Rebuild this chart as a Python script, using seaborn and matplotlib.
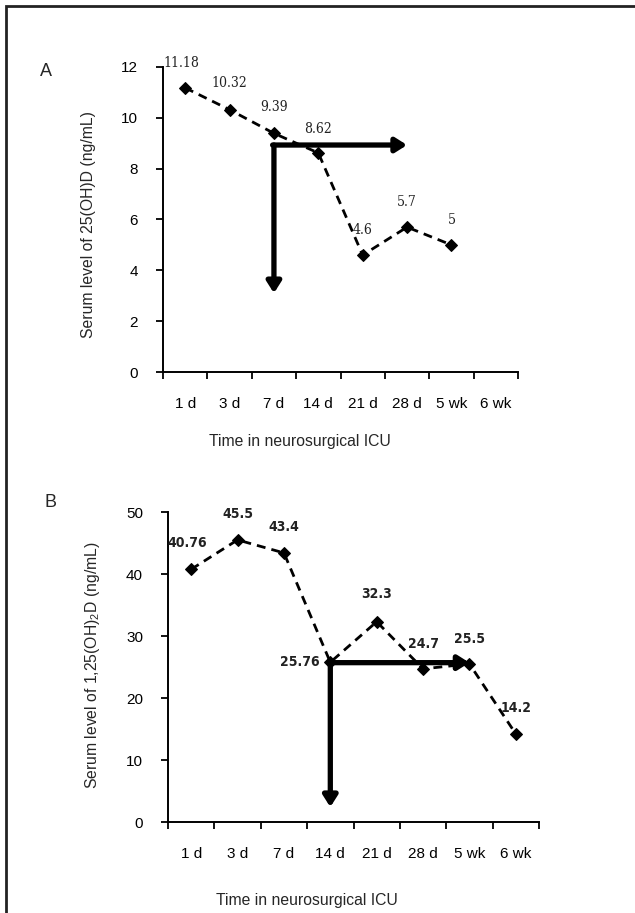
import numpy as np
import pandas as pd
import matplotlib
matplotlib.use("Agg")
import matplotlib.pyplot as plt
from matplotlib.patches import FancyArrowPatch, Rectangle
import seaborn as sns

# ---------------- data ----------------
time_labels = ["1 d", "3 d", "7 d", "14 d", "21 d", "28 d", "5 wk", "6 wk"]

a_labels = ["1 d", "3 d", "7 d", "14 d", "21 d", "28 d", "5 wk"]
a_values = [11.18, 10.32, 9.39, 8.62, 4.6, 5.7, 5]
a_text = ["11.18", "10.32", "9.39", "8.62", "4.6", "5.7", "5"]

b_labels = ["1 d", "3 d", "7 d", "14 d", "21 d", "28 d", "5 wk", "6 wk"]
b_values = [40.76, 45.5, 43.4, 25.76, 32.3, 24.7, 25.5, 14.2]
b_text = ["40.76", "45.5", "43.4", "25.76", "32.3", "24.7", "25.5", "14.2"]

# L-shaped arrows: (start category, end category, level, bottom tip)
a_arrow = ("7 d", "28 d", 8.93, 3.1)
b_arrow = ("14 d", "5 wk", 25.7, 2.4)

# ---------------- style ----------------
sns.set_theme(style="white")
plt.rcParams["font.family"] = ["Liberation Sans", "DejaVu Sans"]
plt.rcParams["mathtext.fontset"] = "custom"
plt.rcParams["mathtext.rm"] = "Liberation Sans"
plt.rcParams["mathtext.it"] = "Liberation Sans:italic"

W, H = 635, 913
fig = plt.figure(figsize=(W / 100, H / 100), dpi=100)


def px_axes(l, t, r, b):
    return fig.add_axes([l / W, 1 - b / H, (r - l) / W, (b - t) / H])


axA = px_axes(163, 67, 518, 372)
axB = px_axes(168, 512, 539, 822)


def draw_panel(ax, labels, values, texts, ymax, ystep, arrow, bold, offsets):
    idx = [time_labels.index(l) for l in labels]
    df = pd.DataFrame({"x": idx, "y": values})
    sns.lineplot(data=df, x="x", y="y", ax=ax, color="black", linestyle=(0, (3.2, 2.2)),
                 linewidth=2.0, marker="D", markersize=6.5, markeredgecolor="black",
                 markerfacecolor="black")
    ax.set_xlim(-0.5, len(time_labels) - 0.5)
    ax.set_ylim(0, ymax)
    ax.set_yticks(np.arange(0, ymax + 0.1, ystep))
    ax.set_xticks(range(len(time_labels)))
    ax.set_xticklabels(time_labels)
    ax.set_xticks(np.arange(-0.5, len(time_labels), 1), minor=True)
    ax.tick_params(axis="x", which="major", length=0, pad=18, labelsize=11, colors="black")
    ax.tick_params(axis="x", which="minor", length=5, width=1.3, direction="out",
                   bottom=True, color="black")
    ax.tick_params(axis="y", length=5, width=1.3, direction="out", left=True,
                   labelsize=11, pad=13, colors="black")
    for s in ["top", "right"]:
        ax.spines[s].set_visible(False)
    for s in ["left", "bottom"]:
        ax.spines[s].set_color("black")
        ax.spines[s].set_linewidth(1.4)
    ax.set_xlabel("")
    ax.set_ylabel("")
    ax.patch.set_alpha(0)

    # value labels
    for i, v, t, off in zip(idx, values, texts, offsets):
        if bold:
            kw = dict(family=["DejaVu Sans"], fontstretch="condensed", fontweight="bold",
                      fontsize=10)
        else:
            kw = dict(family=["DejaVu Serif"], fontstretch="condensed", fontsize=10)
        ax.annotate(t, (i, v), xytext=off, textcoords="offset points",
                    ha="center", va="center", color="#222222", **kw)

    # L-shaped arrow
    x0 = time_labels.index(arrow[0])
    x1 = time_labels.index(arrow[1])
    lvl, tip = arrow[2], arrow[3]
    style = "-|>,head_length=3,head_width=1.9"
    ax.add_patch(FancyArrowPatch((x0, lvl), (x0, tip), arrowstyle=style,
                                 mutation_scale=2.2, linewidth=3.8, color="black",
                                 shrinkA=0, shrinkB=0, zorder=5))
    ax.add_patch(FancyArrowPatch((x0 - 0.03, lvl), (x1, lvl), arrowstyle=style,
                                 mutation_scale=2.2, linewidth=3.8, color="black",
                                 shrinkA=0, shrinkB=0, zorder=5))


a_offsets = [(-3, 18), (0, 19), (0, 19), (0, 17), (0, 18), (0, 18), (0, 18)]
draw_panel(axA, a_labels, a_values, a_text, 12, 2, a_arrow, False, a_offsets)

b_offsets = [(-3, 19), (0, 19), (0, 19), (-22, 0), (0, 20), (0, 18), (0, 18), (0, 19)]
draw_panel(axB, b_labels, b_values, b_text, 50, 10, b_arrow, True, b_offsets)

# axis titles and panel letters
fig.text(88 / W, 1 - 225 / H, "Serum level of 25(OH)D (ng/mL)", rotation=90,
         ha="center", va="center", fontsize=11.3)
fig.text(93 / W, 1 - 665 / H, "Serum level of 1,25(OH)$_2$D (ng/mL)", rotation=90,
         ha="center", va="center", fontsize=11.3)
fig.text(300 / W, 1 - 441 / H, "Time in neurosurgical ICU", ha="center", va="center",
         fontsize=11.3)
fig.text(307 / W, 1 - 900 / H, "Time in neurosurgical ICU", ha="center", va="center",
         fontsize=11.3)
fig.text(46 / W, 1 - 72 / H, "A", ha="center", va="center", fontsize=13)
fig.text(51 / W, 1 - 502 / H, "B", ha="center", va="center", fontsize=13)

# outer frame (clipped at right and bottom)
fig.patches.append(Rectangle((6 / W, -0.05), 1.1, 1 - 6 / H + 0.05,
                             transform=fig.transFigure, fill=False,
                             edgecolor="#222222", linewidth=2, figure=fig))

fig.savefig("out.png", dpi=100)
